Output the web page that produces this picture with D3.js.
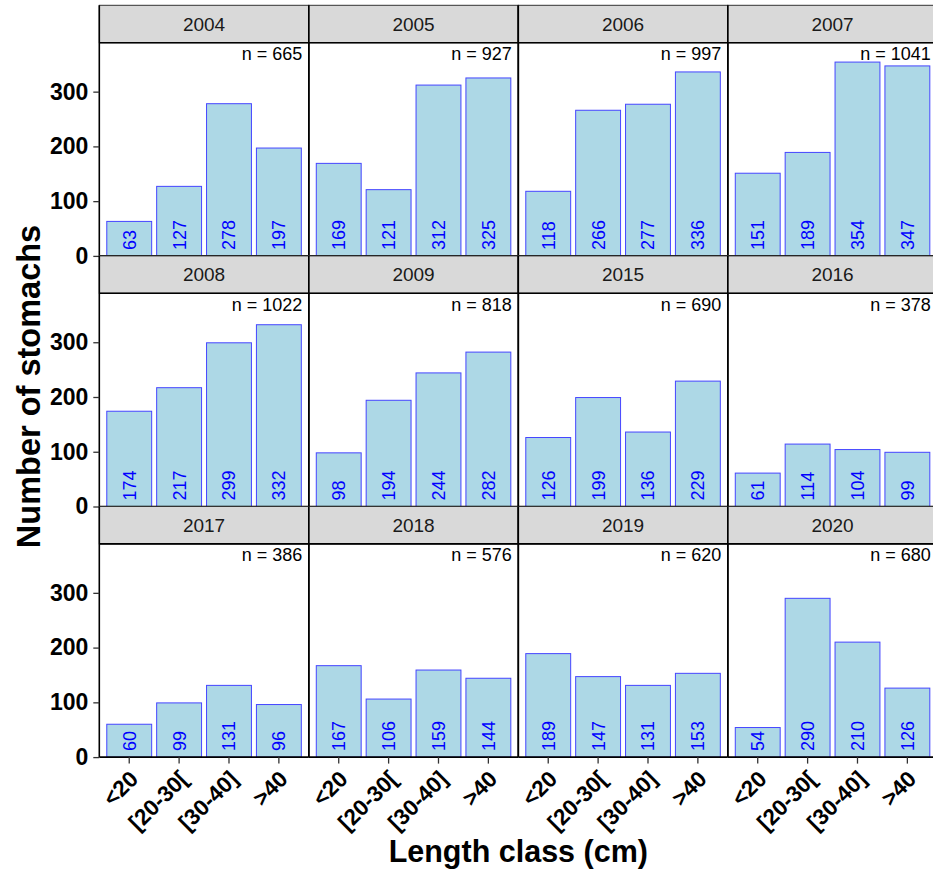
<!DOCTYPE html>
<html>
<head>
<meta charset="utf-8">
<script src="https://cdn.jsdelivr.net/npm/d3@7"></script>
<style>
  html, body { margin: 0; padding: 0; background: #fff; }
  svg { display: block; font-family: "Liberation Sans", Arial, Helvetica, sans-serif; }
  svg text { font-family: "Liberation Sans", Arial, Helvetica, sans-serif; }
</style>
</head>
<body>
<svg id="chart" width="933" height="875"></svg>
<script>
// ---- data ----
const categories = ["<20", "[20-30[", "[30-40]", ">40"];
const years = ["2004", "2005", "2006", "2007", "2008", "2009", "2015", "2016", "2017", "2018", "2019", "2020"];
const v2004 = [63, 127, 278, 197];
const v2005 = [169, 121, 312, 325];
const v2006 = [118, 266, 277, 336];
const v2007 = [151, 189, 354, 347];
const v2008 = [174, 217, 299, 332];
const v2009 = [98, 194, 244, 282];
const v2015 = [126, 199, 136, 229];
const v2016 = [61, 114, 104, 99];
const v2017 = [60, 99, 131, 96];
const v2018 = [167, 106, 159, 144];
const v2019 = [189, 147, 131, 153];
const v2020 = [54, 290, 210, 126];
const seriesValues = [v2004, v2005, v2006, v2007, v2008, v2009, v2015, v2016, v2017, v2018, v2019, v2020];
const totals = [665, 927, 997, 1041, 1022, 818, 690, 378, 386, 576, 620, 680];
const yTicks = [0, 100, 200, 300];
const xTitle = "Length class (cm)";
const yTitle = "Number of stomachs";

// ---- layout ----
const FONT = '"Liberation Sans", Arial, Helvetica, sans-serif';
const nCols = 4;
const left = 99.3, top0 = 5.3;
const panelW = 209.5;
const stripH = 37.4, panelH = 213.2;
const rowPitch = stripH + panelH;

const svg = d3.select("#chart");

const yMax = d3.max(seriesValues.flat()) * 1.1;

years.forEach((yr, i) => {
  const col = i % nCols, row = Math.floor(i / nCols);
  const px = left + col * panelW;
  const sy = top0 + row * rowPitch;
  const py = sy + stripH;
  const pb = py + panelH;

  const x = d3.scaleBand().domain(categories).range([px, px + panelW])
    .paddingInner(0.1).paddingOuter(0.15);
  const y = d3.scaleLinear().domain([0, yMax]).range([pb, py]);

  const g = svg.append("g");

  // strip
  g.append("rect").attr("x", px).attr("y", sy).attr("width", panelW).attr("height", stripH)
    .attr("fill", "#d9d9d9").attr("stroke", "#333").attr("stroke-width", 1);
  g.append("text").attr("x", px + panelW / 2).attr("y", sy + stripH / 2)
    .attr("dy", "0.36em").attr("text-anchor", "middle")
    .attr("font-size", 19).attr("fill", "#1a1a1a").text(yr);

  const data = categories.map((c, k) => ({ c, v: seriesValues[i][k] }));

  // bars
  g.selectAll("rect.bar").data(data).join("rect").attr("class", "bar")
    .attr("x", d => x(d.c)).attr("width", x.bandwidth())
    .attr("y", d => y(d.v)).attr("height", d => y(0) - y(d.v))
    .attr("fill", "#add8e6").attr("stroke", "#4545ff").attr("stroke-width", 1);

  // bar labels
  g.selectAll("text.lab").data(data).join("text").attr("class", "lab")
    .attr("transform", d => `translate(${x(d.c) + x.bandwidth() / 2},${y(0) - 6}) rotate(-90)`)
    .attr("dy", "0.36em").attr("text-anchor", "start")
    .attr("font-size", 18).attr("fill", "#0000ff").text(d => d.v);

  // n label
  g.append("text").attr("x", px + panelW - 6.5).attr("y", py + 17.3)
    .attr("text-anchor", "end").attr("font-size", 18).attr("fill", "#000")
    .text("n = " + totals[i]);

  // panel borders
  g.append("line").attr("x1", px).attr("x2", px).attr("y1", sy).attr("y2", pb)
    .attr("stroke", "#000").attr("stroke-width", 1.6);
  g.append("line").attr("x1", px + panelW).attr("x2", px + panelW).attr("y1", sy).attr("y2", pb)
    .attr("stroke", "#000").attr("stroke-width", 1.6);
  g.append("line").attr("x1", px).attr("x2", px + panelW).attr("y1", pb).attr("y2", pb)
    .attr("stroke", "#000").attr("stroke-width", 1.6);
  g.append("line").attr("x1", px).attr("x2", px + panelW).attr("y1", py).attr("y2", py)
    .attr("stroke", "#000").attr("stroke-width", 1.6);

  // y axis (left column)
  if (col === 0) {
    const ya = g.append("g").attr("transform", `translate(${px},0)`)
      .call(d3.axisLeft(y).tickValues(yTicks).tickSize(6).tickPadding(5))
      .attr("font-family", FONT);
    ya.select(".domain").remove();
    ya.selectAll(".tick line").attr("stroke", "#333").attr("stroke-width", 1.3);
    ya.selectAll(".tick text").attr("font-size", 23).attr("font-weight", "bold")
      .attr("fill", "#000").attr("font-family", FONT);
  }

  // x axis (bottom row)
  if (row === 2) {
    const xa = g.append("g").attr("transform", `translate(0,${pb})`)
      .call(d3.axisBottom(x).tickSize(6.5).tickSizeOuter(0))
      .attr("font-family", FONT);
    xa.select(".domain").remove();
    xa.selectAll(".tick line").attr("stroke", "#333").attr("stroke-width", 1.3);
    xa.selectAll(".tick text")
      .attr("font-size", 22.5).attr("font-weight", "bold").attr("fill", "#000")
      .attr("font-family", FONT)
      .attr("text-anchor", "end")
      .attr("y", 0).attr("dy", "0.71em")
      .attr("transform", "translate(-1,12) rotate(-45)");
  }
});

// axis titles
svg.append("text").attr("x", left + panelW * 2).attr("y", 862)
  .attr("text-anchor", "middle").attr("font-size", 30.5).attr("font-weight", "bold")
  .attr("fill", "#000").text(xTitle);
svg.append("text").attr("transform", `translate(40,386.5) rotate(-90)`)
  .attr("text-anchor", "middle").attr("font-size", 32.5).attr("font-weight", "bold")
  .attr("fill", "#000").text(yTitle);
</script>
</body>
</html>
